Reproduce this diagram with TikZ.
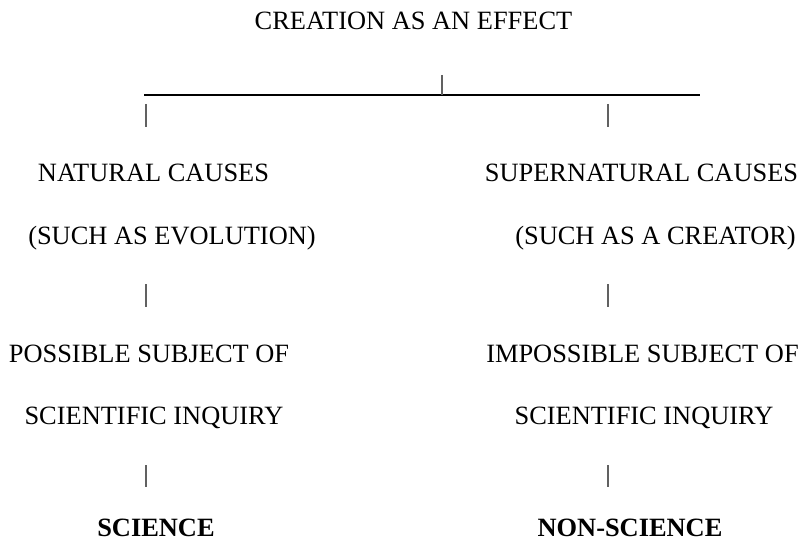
\documentclass[tikz,border=0pt]{standalone}
\usepackage{fontspec}
\setmainfont{Liberation Serif}
\begin{document}
\begin{tikzpicture}[x=1pt,y=-1pt,
  label/.style={anchor=base,inner sep=0pt,font=\fontsize{26.4}{30}\selectfont},
  result/.style={label,font=\fontsize{26.4}{30}\selectfont\bfseries},
  bar/.style={draw=black!62,line width=1.2pt},
  branch/.style={draw=black,line width=2pt}]
\useasboundingbox (0,0) rectangle (805,545);

% heading
\node[label] (top) at (413.5,30) {CREATION AS AN EFFECT};

% split line with its stem
\coordinate (splitL) at (144,95);
\coordinate (splitR) at (700,95);
\coordinate (stemTop) at (442,75);
\coordinate (stemBot) at (442,95);
\draw[branch] (splitL) -- (splitR);
\draw[bar] (stemTop) -- (stemBot);

% left branch
\node[label] (nat)   at (153.5,182) {NATURAL CAUSES};
\node[label] (evo)   at (172,244)   {(SUCH AS EVOLUTION)};
\node[label] (poss)  at (149,362)   {POSSIBLE SUBJECT OF};
\node[label] (inqL)  at (154,424)   {SCIENTIFIC INQUIRY};
\node[result] (sci)  at (156,536)   {SCIENCE};

% right branch
\node[label] (sup)   at (641.5,182) {SUPERNATURAL CAUSES};
\node[label] (cre)   at (655.5,244) {(SUCH AS A CREATOR)};
\node[label] (imp)   at (642.5,362) {IMPOSSIBLE SUBJECT OF};
\node[label] (inqR)  at (644,424)   {SCIENTIFIC INQUIRY};
\node[result] (nsci) at (630,536)   {NON-SCIENCE};

% short vertical bars between the levels
\coordinate (l1a) at (146,104); \coordinate (l1b) at (146,127);
\coordinate (r1a) at (608,104); \coordinate (r1b) at (608,127);
\coordinate (l2a) at (146,284); \coordinate (l2b) at (146,307);
\coordinate (r2a) at (608,284); \coordinate (r2b) at (608,307);
\coordinate (l3a) at (146,465); \coordinate (l3b) at (146,487);
\coordinate (r3a) at (608,465); \coordinate (r3b) at (608,487);
\draw[bar] (l1a) -- (l1b);
\draw[bar] (r1a) -- (r1b);
\draw[bar] (l2a) -- (l2b);
\draw[bar] (r2a) -- (r2b);
\draw[bar] (l3a) -- (l3b);
\draw[bar] (r3a) -- (r3b);
\end{tikzpicture}
\end{document}
